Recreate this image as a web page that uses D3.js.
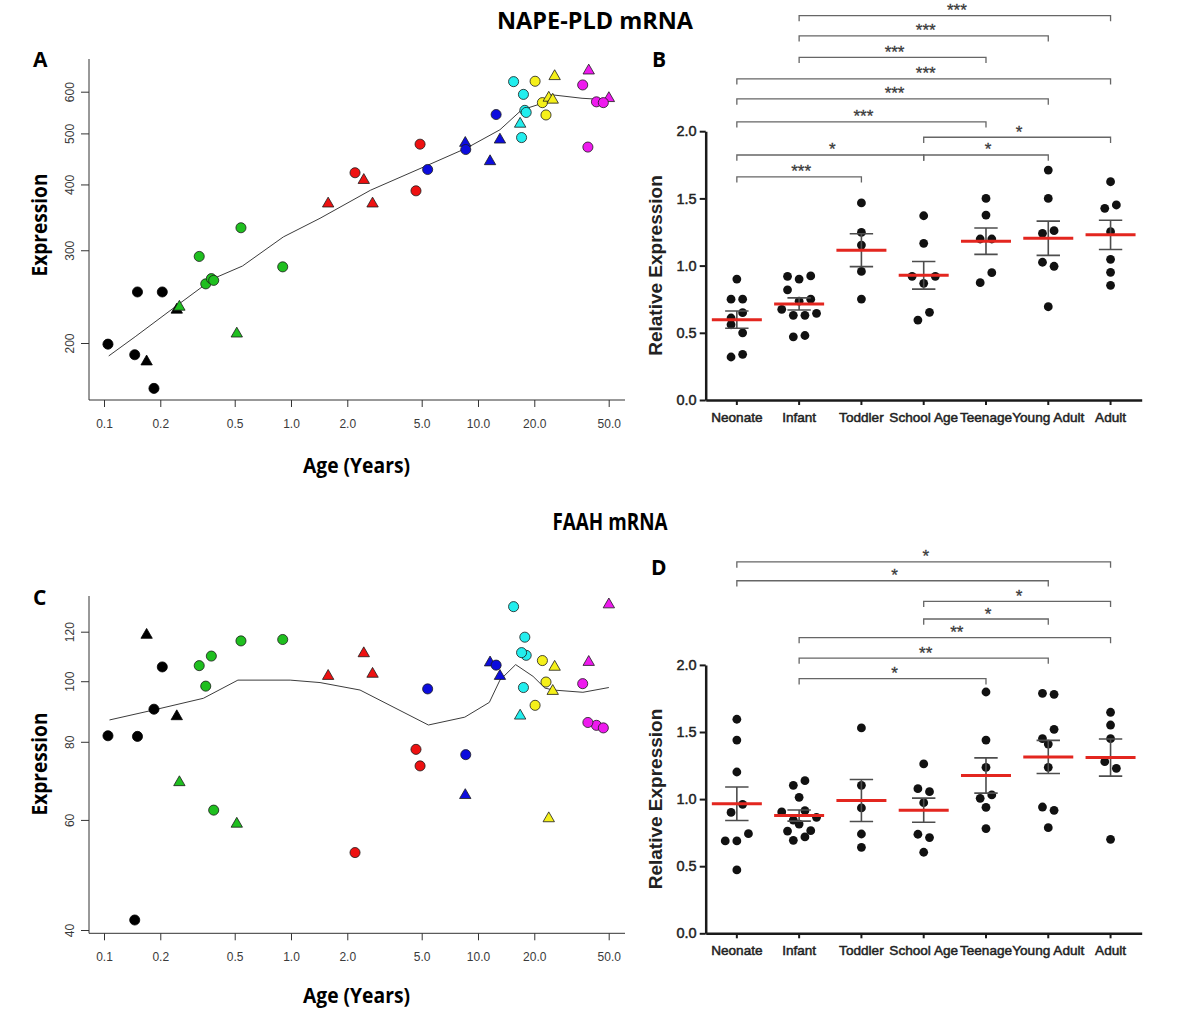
<!DOCTYPE html>
<html><head><meta charset="utf-8">
<script src="https://cdn.jsdelivr.net/npm/d3@7"></script>
<style>body{margin:0;background:#fff}svg{display:block}</style>
</head><body>
<script>
// ---------------- DATA ----------------
const groups = ["Neonate","Infant","Toddler","School Age","Teenage","Young Adult","Adult"];
const groupColors = ["#000000","#1fbf1f","#ee1111","#0c0cdd","#22eeee","#f5f01a","#ee1aee"];

// individual subjects (panels A and C)
const subjectAge   = [0.105,0.151,0.205,0.146,0.185,0.169,0.245,
                      0.253,0.513,0.323,0.54,0.35,0.375,0.386,0.903,
                      1.58,2.2,2.45,2.73,4.66,4.9,
                      5.38,8.55,8.6,11.6,13.1,12.5,
                      15.5,17.5,17.8,18.1,17.1,16.8,
                      20.2,22.1,23.1,25.7,23.9,25.1,
                      39.1,50.1,36.3,43,46.8,38.7];
const subjectGroup = [0,0,0,0,0,0,0, 1,1,1,1,1,1,1,1, 2,2,2,2,2,2, 3,3,3,3,3,3, 4,4,4,4,4,4, 5,5,5,5,5,5, 6,6,6,6,6,6];
const subjectShape = ["c","c","c","c","c","t","t",
                      "t","t","c","c","c","c","c","c",
                      "t","c","t","t","c","c",
                      "c","t","c","t","t","c",
                      "c","c","c","c","c","t",
                      "c","c","c","t","t","t",
                      "t","t","c","c","c","c"];
const napeExpr = [199,250,250,190,164,185,232,
                  235,209,292,331,259,265,263,279,
                  369,421,409,369,389,477,
                  427,481,466,444,488,543,
                  627,593,553,548,491,523,
                  628,572,542,644,586,581,
                  660,585,618,574,572,471];
const faahExpr = [81.8,81.6,105.4,41.5,90.2,118.9,88.1,
                  69.1,59.3,105.9,116,98.2,109.7,62.2,116.6,
                  102.2,53.2,111.1,103,77.8,73.2,
                  97.2,65.9,76.3,107.4,102.2,106.1,
                  131.6,97.7,117.6,110,111.1,88.3,
                  91.5,107.9,99.7,105.7,60.5,96.7,
                  107.6,133,99.1,85,84.2,85.9];

// smoothed trend lines
const napeLoessAge = [0.106,0.148,0.255,0.384,0.55,0.91,1.43,2.66,5.3,8.7,13.1,17.1,21.3,24.8,36,50];
const napeLoess    = [189,206,238,265,280,318,345,390,434,469,508,554,568,592,583,579];
const faahLoessAge = [0.107,0.183,0.34,0.52,0.99,1.43,2.34,5.43,8.5,11.5,13.1,15.9,19.7,22.8,25.3,36.4,50.1];
const faahLoess    = [86.7,89.9,93.9,100.4,100.4,99.5,96.8,85.1,87.6,92.5,100.4,106.3,101.8,97.5,96.8,96,97.7];

const ageTicks  = [0.1,0.2,0.5,1,2,5,10,20,50];
const napeTicks = [200,300,400,500,600];
const faahTicks = [40,60,80,100,120];
const relTicks  = [0,0.5,1,1.5,2];

// relative expression per group (panels B and D)
const napeRel = [
  [0.90,0.75,0.75,0.61,0.65,0.56,0.50,0.32,0.34],
  [0.92,0.90,0.923,0.82,0.735,0.75,0.675,0.63,0.63,0.645,0.47,0.48],
  [1.466,1.247,1.153,0.957,0.751],
  [1.371,1.166,0.92,0.868,0.92,0.595,0.652],
  [1.50,1.376,1.198,1.198,0.873,0.947],
  [1.711,1.50,1.24,1.26,1.025,0.995,0.694],
  [1.624,1.426,1.451,1.252,1.047,0.95,0.853]
];
const faahRel = [
  [1.595,1.44,1.202,0.901,0.961,0.688,0.688,0.742,0.472],
  [1.103,1.137,1.013,0.904,0.844,0.914,0.864,0.762,0.814,0.765,0.693,0.718],
  [1.53,1.103,0.934,0.74,0.641],
  [1.262,1.078,1.055,0.973,0.738,0.713,0.604],
  [1.798,1.44,1.237,1.006,1.031,0.939,0.78],
  [1.788,1.781,1.45,1.52,1.41,1.237,0.941,0.916,0.787],
  [1.647,1.552,1.45,1.279,1.229,0.70]
];
const napeComparisons = [
  ["Infant","Adult","***",2.86],
  ["Infant","Young Adult","***",2.71],
  ["Infant","Teenage","***",2.55],
  ["Neonate","Adult","***",2.39],
  ["Neonate","Young Adult","***",2.24],
  ["Neonate","Teenage","***",2.07],
  ["School Age","Adult","*",1.955],
  ["Neonate","School Age","*",1.823],
  ["School Age","Young Adult","*",1.823],
  ["Neonate","Toddler","***",1.66]
];
const faahComparisons = [
  ["Neonate","Adult","*",2.767],
  ["Neonate","Young Adult","*",2.627],
  ["School Age","Adult","*",2.474],
  ["School Age","Young Adult","*",2.342],
  ["Infant","Adult","**",2.203],
  ["Infant","Young Adult","**",2.051],
  ["Infant","Teenage","*",1.897]
];

// ---------------- DRAWING ----------------
const SANS = "'Liberation Sans', Arial, sans-serif";
const HEAD = "'Open Sans', 'Liberation Sans', sans-serif";
const svg = d3.select("body").append("svg").attr("width",1200).attr("height",1028);

function headText(txt, x, y, size, len, rotate) {
  const t = svg.append("text").text(txt)
    .attr("font-family", HEAD).attr("font-weight", 700).attr("font-size", size)
    .attr("fill", "#000").attr("text-anchor", "middle");
  if (len) t.attr("textLength", len).attr("lengthAdjust", "spacingAndGlyphs");
  if (rotate) t.attr("transform", `translate(${x},${y}) rotate(-90)`);
  else t.attr("x", x).attr("y", y);
  return t;
}
function letter(txt, x, y) {
  svg.append("text").text(txt).attr("x", x).attr("y", y)
    .attr("font-family", HEAD).attr("font-weight", 700).attr("font-size", 21).attr("fill", "#000");
}

headText("NAPE-PLD mRNA", 595, 28.5, 23, 196);
headText("FAAH mRNA", 610, 529.5, 23, 115);
letter("A", 33, 66.5); letter("B", 652, 66.5); letter("C", 33, 604.5); letter("D", 651, 575);

const xAge = d3.scaleLog().domain([0.1, 50]).range([104, 608.7]);
const boxLeft = 89, boxRight = 625;

function scatterPanel(expr, y, ticks, top, bottom, lAge, lVal, ageLabelY, exprLabelY) {
  const g = svg.append("g");
  g.append("path").attr("d", `M${boxLeft},${top}V${bottom}H${boxRight}`)
    .attr("fill","none").attr("stroke","#333").attr("stroke-width",1);
  const xa = g.append("g").attr("transform", `translate(0,${bottom})`)
    .call(d3.axisBottom(xAge).tickValues(ageTicks).tickFormat(d3.format(".1f")).tickSize(7).tickPadding(12));
  xa.select(".domain").remove();
  xa.selectAll("line").attr("stroke","#333");
  xa.selectAll("text").attr("font-family", SANS).attr("font-size", 12).attr("fill", "#3a3a3a");
  const ya = g.append("g").attr("transform", `translate(${boxLeft},0)`)
    .call(d3.axisLeft(y).tickValues(ticks).tickFormat(d3.format("d")).tickSize(8));
  ya.select(".domain").remove();
  ya.selectAll("line").attr("stroke","#333");
  ya.selectAll("text").attr("x",0).attr("y",-15).attr("dy",0).attr("text-anchor","middle")
    .attr("transform","rotate(-90)").attr("font-family", SANS).attr("font-size", 12).attr("fill", "#3a3a3a");

  g.append("path").datum(d3.zip(lAge, lVal))
    .attr("d", d3.line().x(d => xAge(d[0])).y(d => y(d[1])))
    .attr("fill","none").attr("stroke","#3c3c3c").attr("stroke-width",1);

  const idx = d3.range(subjectAge.length);
  const tri = d3.symbol(d3.symbolTriangle, 56);
  g.selectAll("path.pt").data(idx).join("path").attr("class","pt")
    .attr("d", i => subjectShape[i] === "t" ? tri() : d3.symbol(d3.symbolCircle, 80)())
    .attr("transform", i => `translate(${xAge(subjectAge[i])},${y(expr[i]) + (subjectShape[i]==="t"?0.8:0)})`)
    .attr("fill", i => groupColors[subjectGroup[i]])
    .attr("stroke", i => subjectGroup[i] === 0 ? "#000" : "#1c1c1c")
    .attr("stroke-width", 0.8);

  headText("Age (Years)", 356.5, ageLabelY, 21, 107);
  headText("Expression", 47, exprLabelY, 21, 103, true);
}

scatterPanel(napeExpr, d3.scaleLog().domain([200,600]).range([343,91.7]), napeTicks, 59, 400,
             napeLoessAge, napeLoess, 472.5, 225);
scatterPanel(faahExpr, d3.scaleLog().domain([40,120]).range([930,631.7]), faahTicks, 596, 933.3,
             faahLoessAge, faahLoess, 1003, 764);

function rowOffsets(values, y, spacing, thresh) {
  const order = d3.range(values.length).sort((a,b) => values[b] - values[a] || a - b);
  const rows = []; let cur = null;
  for (const i of order) {
    if (cur && Math.abs(y(values[i]) - y(values[cur[0]])) < thresh) cur.push(i);
    else { cur = [i]; rows.push(cur); }
  }
  const off = new Array(values.length);
  rows.forEach(r => { r.sort((a,b) => a - b); r.forEach((i,k) => off[i] = (k - (r.length - 1) / 2) * spacing); });
  return off;
}

function dotPanel(data, comps, y0, y2, labelCenterY) {
  const g = svg.append("g");
  const x = d3.scaleBand().domain(groups).range([705.7, 1141.7]).padding(0);
  const y = d3.scaleLinear().domain([0, 2]).range([y0, y2]);
  const cx = gname => x(gname) + x.bandwidth() / 2;

  // brackets
  comps.forEach(([a, b, lab, h]) => {
    const x1 = cx(a), x2 = cx(b), yy = y(h);
    g.append("path").attr("d", `M${x1},${yy + 5.7}V${yy}H${x2}V${yy + 5.7}`)
      .attr("fill","none").attr("stroke","#666").attr("stroke-width",1.3);
    g.append("text").text(lab).attr("x", (x1 + x2) / 2 + 2).attr("y", yy + 0.5)
      .attr("text-anchor","middle").attr("font-family", SANS).attr("font-size", 17)
      .attr("fill","#3a3a3a").attr("stroke","#3a3a3a").attr("stroke-width",0.3);
  });

  // axes
  const ya = g.append("g").attr("transform", `translate(705.7,0)`)
    .call(d3.axisLeft(y).tickValues(relTicks).tickFormat(d3.format(".1f")).tickSize(6).tickSizeOuter(0).tickPadding(3));
  ya.select(".domain").attr("stroke","#1a1a1a").attr("stroke-width",2.5);
  ya.selectAll("line").attr("stroke","#1a1a1a").attr("stroke-width",2);
  ya.selectAll("text").attr("font-family", SANS).attr("font-size", 14.5).attr("fill","#222")
    .attr("stroke","#222").attr("stroke-width",0.45);
  const xa = g.append("g").attr("transform", `translate(0,${y0})`)
    .call(d3.axisBottom(x).tickSize(5).tickSizeOuter(0).tickPadding(7));
  xa.select(".domain").attr("stroke","#1a1a1a").attr("stroke-width",2.5);
  xa.selectAll("line").attr("stroke","#1a1a1a").attr("stroke-width",2);
  xa.selectAll("text").attr("font-family", SANS).attr("font-size", 13.6).attr("fill","#222")
    .attr("stroke","#222").attr("stroke-width",0.5);

  // dots, SEM, mean
  data.forEach((vals, gi) => {
    const c = cx(groups[gi]);
    const off = rowOffsets(vals, y, 11.6, 11.8);
    g.selectAll(null).data(vals).join("circle")
      .attr("cx", (d, i) => c + off[i]).attr("cy", d => y(d)).attr("r", 4.4).attr("fill", "#111");
    const m = d3.mean(vals), sem = d3.deviation(vals) / Math.sqrt(vals.length);
    g.append("path").attr("d",
      `M${c},${y(m - sem)}V${y(m + sem)}M${c - 11.7},${y(m + sem)}H${c + 11.7}M${c - 11.7},${y(m - sem)}H${c + 11.7}`)
      .attr("fill","none").attr("stroke","#4d4d4d").attr("stroke-width",1.6);
    g.append("line").attr("x1", c - 25).attr("x2", c + 25).attr("y1", y(m)).attr("y2", y(m))
      .attr("stroke","#e3261f").attr("stroke-width",3);
  });

  g.append("text").text("Relative Expression")
    .attr("transform", `translate(662,${labelCenterY}) rotate(-90)`)
    .attr("text-anchor","middle").attr("font-family", SANS).attr("font-weight",700)
    .attr("font-size", 19).attr("fill","#222");
}

dotPanel(napeRel, napeComparisons, 400, 131.2, 265.5);
dotPanel(faahRel, faahComparisons, 933.3, 664.9, 799);
</script>
</body></html>
